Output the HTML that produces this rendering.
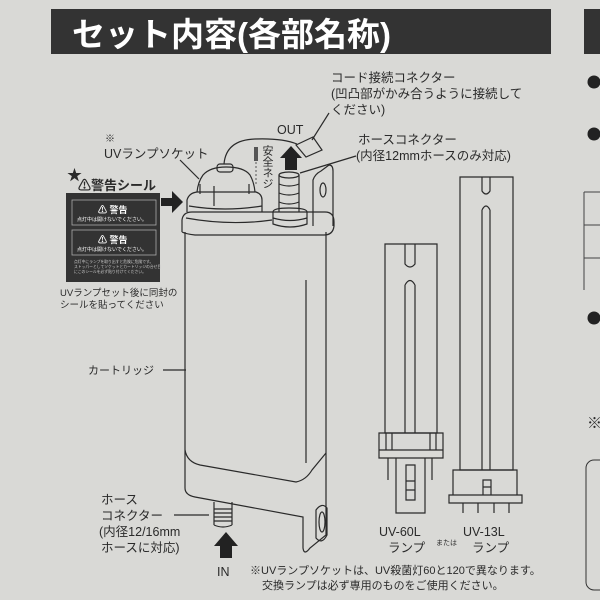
<!DOCTYPE html>
<html><head><meta charset="utf-8"><style>
body{margin:0;width:600px;height:600px;overflow:hidden;background:#d9d9d6;}
svg{display:block}
text{font-family:"Liberation Sans","Noto Sans CJK JP",sans-serif;fill:#2a2a2a}
</style></head><body>
<svg width="600" height="600" viewBox="0 0 600 600">
<rect width="600" height="600" fill="#d9d9d6"/>
<rect x="51" y="9" width="500" height="45" fill="#333"/>
<rect x="584" y="9" width="16" height="45" fill="#333"/>
<text x="72" y="46" font-size="33" font-weight="bold" style="fill:#fff">セット内容(各部名称)</text>
<circle cx="594" cy="82" r="6.5" fill="#222"/><circle cx="594" cy="134" r="6.5" fill="#222"/><circle cx="594" cy="318" r="6.5" fill="#222"/>
<text x="587" y="428" font-size="15">※</text>
<path d="M584 192 v98 M584 192 h16 M584 225 h16 M584 258 h16" stroke="#444" fill="none"/>
<rect x="586" y="460" width="30" height="130" rx="8" fill="none" stroke="#333"/>

<g fill="none" stroke="#2a2a2a" stroke-width="1.2">
<!-- cartridge -->
<path d="M185 232 L185 488 Q185 495 195 497 L303 517 L303 548 Q304 556 310 548 L326 535 L326 232"/>
<path d="M185 450 Q187 462 200 465 L296 482 Q306 480 312 470 L326 453"/>
<path d="M306 280 L306 463"/>
<path d="M182 232 L182 220 Q183 212 192 212 L325 212 Q334 212 334 222 L334 226 Q333 235 324 235 L195 235 Q186 234 182 232"/>
<path d="M186 218 Q230 226 272 220"/>
<path d="M187 212 L187 200 Q189 193 197 192 L256 192 Q262 194 262 200 L262 212"/>
<path d="M189 206 Q225 212 262 206"/>
<path d="M197 192 Q198 182 203 175 Q210 167 226 167 Q244 167 250 175 Q254 182 255 192"/>
<path d="M214 186 v20 M200 184 v10 M249 184 v10"/>
<rect x="217" y="164" width="16" height="8" rx="3"/>
<path d="M224 164 Q226 140 255 139 Q282 138 297 144"/>
<path d="M313 226 L313 180 Q315 174 321 171 L329 165 Q333 165 333 171 L333 226"/>
<ellipse cx="323" cy="190" rx="3" ry="7"/>
<path d="M279 175 L279 212 M299 175 L299 212"/>
<ellipse cx="289" cy="175" rx="10" ry="3"/>
<path d="M279 184 q10 4 20 0 M279 193 q10 4 20 0 M279 202 q10 4 20 0"/>
<path d="M273 212 Q273 208 289 208 Q307 208 307 212 L307 224 Q290 230 273 224 Z M273 218 q17 5 34 0"/>
<path d="M296 145 L313 137 L322 150 L306 157 Z"/>
<path d="M312 140 L329 113"/>
<path d="M180 160 L199 179"/>
<path d="M300 173 L356 156"/>
<!-- bottom connector & loop -->
<path d="M214 502 L214 525 M232 502 L232 525 M214 525 q9 4 18 0 M214 509h18 M214 513h18 M214 517h18 M214 521h18"/>
<path d="M316 510 Q322 502 327 508 L327 535 Q322 545 316 538 Z"/>
<ellipse cx="322" cy="522" rx="3" ry="10"/>
<!-- lamps -->
<path d="M385 244 h52 v189 h-52 Z M405 244 v20 q5 6 10 0 v-20 M405 285 v148 M415 285 v148 M405 285 q5 -9 10 0"/>
<path d="M379 433 h64 v25 h-64 Z M379 450 h64 M386 450 v-17 M392 450 v-17 M430 450 v-17 M436 450 v-17"/>
<path d="M388 458 v22 M432 458 v22"/>
<path d="M396 458 v55 h29 v-55 M406 465 h9 v35 h-9 Z M406 481 h9 M406 490 h9"/>
<path d="M460 177 h53 v293 h-53 Z M482 177 v14 q4 6 8 0 v-14 M482 210 v260 M490 210 v260 M482 210 q4 -8 8 0"/>
<path d="M453 470 h64 v25 h-64 Z M449 495 h73 v8 h-73 Z M483 480 h8 v15 h-8 Z M483 487 h8"/>
<path d="M463 503 v10 M478 503 v10 M494 503 v10 M509 503 v10"/>
<!-- leaders -->
<path d="M163 370 h23"/>
<path d="M174 515 h35"/>
</g>
<!-- arrows -->
<path d="M285 158 h-5 l11 -12 l11 12 h-5 v12 h-12 Z" fill="#222"/>
<path d="M161 198 h11 v-7 l11 11 l-11 11 v-7 h-11 Z" fill="#222"/>
<path d="M220 546 h-6 l12 -14 l12 14 h-6 v12 h-12 Z" fill="#222"/>
<rect x="254" y="147" width="4" height="14" fill="#555"/>
<path d="M256 162 v24" stroke="#555" stroke-dasharray="2 2"/>
<!-- sticker -->
<rect x="66" y="193" width="94" height="89" fill="#333"/>
<rect x="72" y="200" width="84" height="25" fill="none" stroke="#aaa" stroke-width="0.8"/>
<rect x="72" y="230" width="84" height="25" fill="none" stroke="#aaa" stroke-width="0.8"/>
<text x="98" y="213" font-size="9" font-weight="bold" style="fill:#fff">⚠ 警告</text>
<text x="77" y="221" font-size="5" style="fill:#fff">点灯中は開けないでください。</text>
<text x="98" y="243" font-size="9" font-weight="bold" style="fill:#fff">⚠ 警告</text>
<text x="77" y="251" font-size="5" style="fill:#fff">点灯中は開けないでください。</text>
<text x="74" y="263" font-size="3.8" style="fill:#ccc">点灯中にランプを取り出すと危険に危険です。</text>
<text x="74" y="268" font-size="3.8" style="fill:#ccc">ストッパーとしてソケットとカートリッジの合せ目</text>
<text x="74" y="273" font-size="3.8" style="fill:#ccc">にこのシールを必ず貼り付けてください。</text>
<!-- labels -->
<text x="67" y="180" font-size="15">★</text>
<text x="78" y="190" font-size="13" font-weight="bold">⚠警告シール</text>
<text x="60" y="296" font-size="9.5">UVランプセット後に同封の</text>
<text x="60" y="308" font-size="9.5">シールを貼ってください</text>
<text x="105" y="142" font-size="10">※</text>
<text x="104" y="158" font-size="12.5">UVランプソケット</text>
<text x="277" y="134" font-size="12.5">OUT</text>
<text x="331" y="82" font-size="12.5">コード接続コネクター</text>
<text x="331" y="98" font-size="12.5">(凹凸部がかみ合うように接続して</text>
<text x="331" y="114" font-size="12.5">ください)</text>
<text x="358" y="144" font-size="12.5">ホースコネクター</text>
<text x="356" y="160" font-size="12.5">(内径12mmホースのみ対応)</text>
<text x="267" y="145" font-size="11" writing-mode="tb">安全ネジ</text>
<text x="88" y="374" font-size="11">カートリッジ</text>
<text x="101" y="504" font-size="12.5">ホース</text>
<text x="101" y="520" font-size="12.5">コネクター</text>
<text x="99" y="536" font-size="12.5">(内径12/16mm</text>
<text x="101" y="552" font-size="12.5">ホースに対応)</text>
<text x="217" y="576" font-size="12.5">IN</text>
<text x="379" y="536" font-size="12.5">UV-60L</text>
<text x="388" y="552" font-size="12.5">ランプ</text>
<text x="436" y="545" font-size="7">または</text>
<text x="463" y="536" font-size="12.5">UV-13L</text>
<text x="472" y="552" font-size="12.5">ランプ</text>
<text x="250" y="574" font-size="11">※UVランプソケットは、UV殺菌灯60と120で異なります。</text>
<text x="262" y="589" font-size="11">交換ランプは必ず専用のものをご使用ください。</text>
</svg>
</body></html>
